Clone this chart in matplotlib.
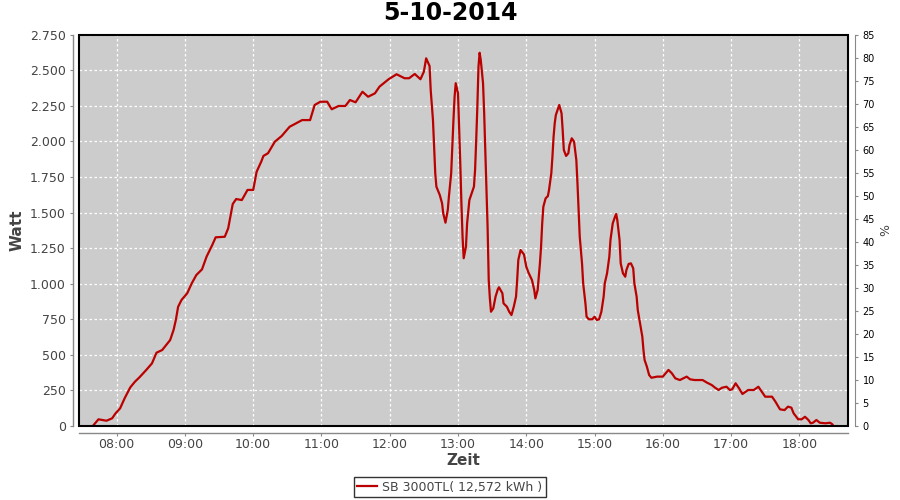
import numpy as np
import matplotlib
matplotlib.use('Agg')
import matplotlib.pyplot as plt
from matplotlib.ticker import FuncFormatter, MultipleLocator
from matplotlib.patches import Rectangle

# daily yield curve of the inverter
zeit = ['07:39', '07:44', '07:51', '07:56', '07:59', '08:03', '08:07', '08:12', '08:16', '08:20',
        '08:26', '08:31', '08:35', '08:40', '08:47', '08:50', '08:52', '08:54', '08:57', '09:02',
        '09:06', '09:10', '09:15', '09:19', '09:24', '09:27', '09:35', '09:38', '09:41', '09:42',
        '09:45', '09:50', '09:55', '10:00', '10:03', '10:07', '10:09', '10:13', '10:19', '10:25',
        '10:32', '10:43', '10:50', '10:54', '10:59', '11:05', '11:09', '11:15', '11:21', '11:25',
        '11:30', '11:36', '11:41', '11:47', '11:51', '11:59', '12:06', '12:13', '12:17', '12:22',
        '12:27', '12:30', '12:32', '12:35', '12:36', '12:38', '12:39', '12:40', '12:41', '12:44',
        '12:46', '12:47', '12:49', '12:51', '12:52', '12:54', '12:55', '12:56', '12:57', '12:58',
        '13:00', '13:01', '13:02', '13:03', '13:04', '13:05', '13:07', '13:08', '13:10', '13:12',
        '13:14', '13:15', '13:16', '13:17', '13:18', '13:19', '13:20', '13:22', '13:23', '13:24',
        '13:25', '13:26', '13:27', '13:28', '13:29', '13:31', '13:33', '13:35', '13:36', '13:39',
        '13:40', '13:43', '13:45', '13:47', '13:49', '13:51', '13:52', '13:53', '13:55', '13:58',
        '14:00', '14:02', '14:05', '14:07', '14:08', '14:10', '14:12', '14:13', '14:14', '14:15',
        '14:17', '14:19', '14:20', '14:22', '14:23', '14:24', '14:25', '14:26', '14:28', '14:29',
        '14:31', '14:32', '14:33', '14:35', '14:37', '14:38', '14:40', '14:42', '14:44', '14:45',
        '14:46', '14:47', '14:49', '14:50', '14:52', '14:53', '14:55', '14:58', '15:00', '15:02',
        '15:04', '15:06', '15:08', '15:09', '15:11', '15:13', '15:14', '15:16', '15:18', '15:19',
        '15:20', '15:22', '15:23', '15:25', '15:27', '15:28', '15:30', '15:32', '15:34', '15:35',
        '15:37', '15:38', '15:40', '15:42', '15:43', '15:44', '15:46', '15:48', '15:50', '15:55',
        '16:00', '16:03', '16:05', '16:08', '16:11', '16:15', '16:18', '16:21', '16:24', '16:28',
        '16:35', '16:39', '16:43', '16:46', '16:49', '16:52', '16:56', '16:59', '17:01', '17:04',
        '17:07', '17:10', '17:15', '17:20', '17:24', '17:27', '17:30', '17:36', '17:39', '17:43',
        '17:47', '17:50', '17:53', '17:55', '17:59', '18:02', '18:05', '18:08', '18:10', '18:12',
        '18:15', '18:18', '18:23', '18:27', '18:29', '18:30']
watt = [0, 47, 37, 54, 89, 124, 195, 272, 311, 342,
        394, 440, 515, 534, 604, 675, 745, 838, 886, 933,
        1003, 1061, 1101, 1190, 1272, 1326, 1330, 1389, 1518, 1560,
        1595, 1588, 1659, 1659, 1787, 1857, 1898, 1917, 1998, 2038,
        2103, 2150, 2150, 2256, 2279, 2279, 2226, 2249, 2249, 2291,
        2275, 2349, 2314, 2338, 2385, 2437, 2472, 2444, 2444, 2474,
        2437, 2490, 2584, 2530, 2361, 2150, 1963, 1776, 1682, 1623,
        1565, 1495, 1429, 1518, 1612, 1776, 1963, 2150, 2314, 2409,
        2338, 2103, 1846, 1565, 1330, 1179, 1260, 1424, 1588, 1635,
        1682, 1799, 2010, 2244, 2525, 2623, 2572, 2409, 2198, 1940,
        1682, 1401, 1026, 897, 803, 827, 909, 961, 975, 933,
        862, 838, 803, 780, 838, 909, 1026, 1167, 1237, 1205,
        1120, 1077, 1026, 956, 897, 956, 1143, 1260, 1424, 1541,
        1600, 1616, 1659, 1776, 1893, 2033, 2127, 2186, 2233, 2256,
        2198, 2080, 1940, 1898, 1917, 1975, 2022, 1998, 1869, 1706,
        1518, 1330, 1143, 1003, 862, 768, 750, 750, 768, 745,
        750, 803, 909, 1003, 1073, 1190, 1307, 1424, 1471, 1490,
        1448, 1307, 1143, 1073, 1049, 1096, 1139, 1143, 1108, 1003,
        909, 815, 722, 628, 534, 464, 417, 358, 339, 347,
        347, 375, 394, 370, 335, 323, 335, 347, 328, 323,
        323, 304, 288, 269, 253, 269, 276, 253, 258, 300,
        265, 225, 253, 253, 276, 241, 206, 206, 171, 117,
        112, 136, 129, 89, 47, 47, 65, 42, 19, 23,
        42, 23, 19, 23, 12, 0]

titel = '5-10-2014'
legende = 'SB 3000TL( 12,572 kWh )'
stunden = list(range(8, 19))
x_von, x_bis = 7.448, 18.713

def to_hours(s):
    h, m = s.split(':')
    return int(h) + int(m) / 60.0

def de_format(v, pos):
    return '{:,.0f}'.format(v).replace(',', '.')

x = np.array([to_hours(t) for t in zeit])

grau = '#444444'
achse = '#888888'

fig = plt.figure(figsize=(9, 5), dpi=100)
ax = fig.add_axes([79 / 900, 74 / 500, 769 / 900, 391.3 / 500])
ax.set_facecolor('#cccccc')

line, = ax.plot(x, watt, color='#bb0000', lw=1.6, zorder=3)

ax.set_xlim(x_von, x_bis)
ax.set_ylim(0, 2750)
ax.set_xticks(stunden)
ax.set_xticklabels(['%02d:00' % h for h in stunden])
ax.yaxis.set_major_locator(MultipleLocator(250))
ax.yaxis.set_major_formatter(FuncFormatter(de_format))
ax.grid(True, color='white', linestyle=(0, (2, 2)), lw=0.9)
ax.set_axisbelow(True)

ax.spines['top'].set_visible(False)
ax.spines['right'].set_visible(False)
ax.spines['left'].set_position(('outward', 4))
ax.spines['bottom'].set_position(('outward', 5))
for s in ['left', 'bottom']:
    ax.spines[s].set_color(achse)
    ax.spines[s].set_linewidth(1.0)
ax.tick_params(axis='both', colors=achse, labelcolor=grau, labelsize=9, length=2, width=0.8)
ax.tick_params(axis='x', pad=2)

# black border around the plot area
ax.add_patch(Rectangle((0, 0), 1, 1, transform=ax.transAxes, fill=False,
                       edgecolor='black', lw=1.5, zorder=4, clip_on=False))

ax.set_ylabel('Watt', fontsize=11, fontweight='bold', color=grau, labelpad=4)
ax.set_xlabel('Zeit', fontsize=11, fontweight='bold', color=grau, labelpad=1)

ax2 = ax.twinx()
ax2.set_ylim(0, 85)
ax2.yaxis.set_major_locator(MultipleLocator(5))
for s in ['top', 'left', 'bottom']:
    ax2.spines[s].set_visible(False)
ax2.spines['right'].set_position(('outward', 5))
ax2.spines['right'].set_color(achse)
ax2.tick_params(axis='y', colors=achse, labelcolor='black', labelsize=7, length=2, width=0.8)
ax2.set_ylabel('%', fontsize=9, color=grau, labelpad=3)

fig.suptitle(titel, x=0.5, y=0.997, fontsize=17, fontweight='bold', va='top')

fig.legend([line], [legende], loc='center', bbox_to_anchor=(0.5, 0.026),
           fontsize=9, frameon=True, fancybox=False, edgecolor='black',
           handlelength=1.6, borderpad=0.3, handletextpad=0.4,
           labelcolor=grau).get_frame().set_linewidth(1.0)

fig.savefig('out.png', dpi=100)
